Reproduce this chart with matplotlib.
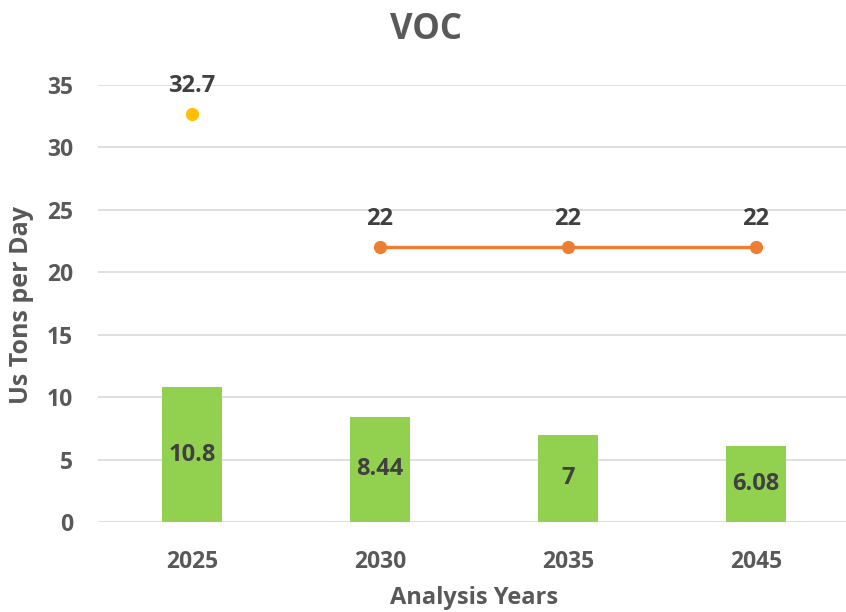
import numpy as np
import matplotlib
matplotlib.use('Agg')
import matplotlib.pyplot as plt

plt.rcParams['font.family'] = ['Open Sans', 'DejaVu Sans']
plt.rcParams['font.weight'] = 'bold'

years = ['2025', '2030', '2035', '2045']
emissions = [10.8, 8.44, 7, 6.08]
budget_years = ['2030', '2035', '2045']
budget = [22, 22, 22]
baseline_year = ['2025']
baseline = [32.7]

x = np.arange(len(years))
bx = [years.index(y) for y in budget_years]
px = [years.index(y) for y in baseline_year]

fig = plt.figure(figsize=(8.46, 6.12), dpi=100)
ax = fig.add_axes([98/846, 1 - 522/612, 752/846, 437/612])

ax.bar(x, emissions, width=0.32, color='#92D050', zorder=2)
ax.plot(bx, budget, color='#ED7D31', lw=2.4, marker='o', ms=8.5, zorder=3)
ax.plot(px, baseline, color='#FFC000', lw=0, marker='o', ms=8.5, zorder=3)

for i, v in zip(x, emissions):
    ax.text(i, v/2, f'{v:g}', ha='center', va='center', fontsize=17,
            color='#404040', fontweight='bold', zorder=4)
for i, v in zip(bx, budget):
    ax.annotate(f'{v:g}', (i, v), xytext=(0, 28), textcoords='offset pixels',
                ha='center', va='center', fontsize=17, color='#404040', fontweight='bold')
for i, v in zip(px, baseline):
    ax.annotate(f'{v:g}', (i, v), xytext=(0, 28), textcoords='offset pixels',
                ha='center', va='center', fontsize=17, color='#404040', fontweight='bold')

ax.set_xlim(-0.5, 3.5)
ax.set_ylim(0, 35)
ax.set_yticks(range(0, 36, 5))
ax.set_xticks(x)
ax.set_xticklabels(years)
ax.yaxis.grid(True, color='#D9D9D9', lw=1.2)
ax.set_axisbelow(True)
for s in ax.spines.values():
    s.set_visible(False)
ax.tick_params(length=0, labelsize=16.5, labelcolor='#595959')
ax.tick_params(axis='y', pad=18)
ax.tick_params(axis='x', pad=20)
for lab in ax.get_xticklabels() + ax.get_yticklabels():
    lab.set_fontweight('bold')

# axis titles placed by their centres
fig.text(474/846, 1 - 598/612, 'Analysis Years', ha='center', va='center',
         fontsize=17, color='#595959', fontweight='bold')
fig.text(22/846, 1 - 305/612, 'Us Tons per Day', ha='center', va='center',
         rotation=90, fontsize=18, color='#595959', fontweight='bold')
fig.text(426/846, 1 - 30/612, 'VOC', ha='center', va='center', fontsize=25,
         color='#595959', fontweight='bold')

fig.savefig('out.png', dpi=100)
